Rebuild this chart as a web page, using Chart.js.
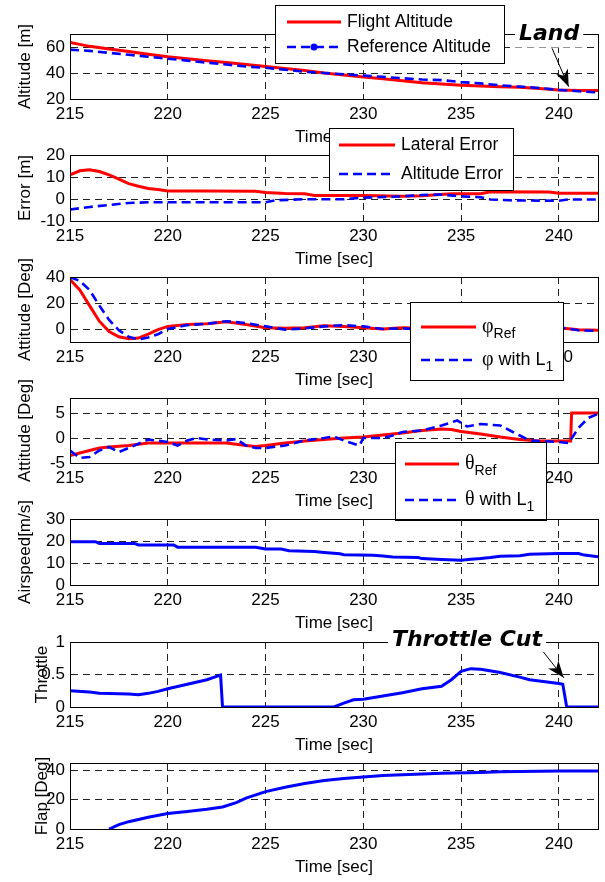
<!DOCTYPE html>
<html>
<head>
<meta charset="utf-8">
<script src="https://cdn.jsdelivr.net/npm/chart.js@4/dist/chart.umd.min.js"></script>
<style>
  body { margin: 0; background: #fff; }
  #wrap { position: relative; width: 605px; height: 882px; }
  #wrap canvas { position: absolute; left: 0; top: 0; }
</style>
</head>
<body>
<div id="wrap"></div>
<script>
// ---- data ----
const timeTicks = [215, 220, 225, 230, 235, 240]
const timeMin = 215
const timeMax = 242

const altTime = [215, 215.5, 216, 217, 218, 219, 220, 221, 222, 223, 224, 225, 226, 227, 228, 229, 230, 231, 232, 233, 234, 235, 236, 237, 238, 239, 240, 241, 242]
const flightAlt = [63.5, 62, 60.5, 58.5, 56.5, 54.5, 52.5, 51, 49.5, 48, 46.5, 45, 43.5, 42, 40, 38.5, 37, 35.5, 34, 32.5, 31.5, 30.5, 30, 29.5, 29, 28, 27, 26.5, 26.5]
const refAlt = [58, 57.5, 57, 55.5, 54, 52.5, 51, 49.5, 48, 46.5, 45, 44, 42.5, 41, 40, 39, 38, 37, 36, 35, 34.5, 33, 32, 30.5, 29.5, 28.5, 27, 26, 25]
const altTicks = [20, 40, 60]

const latTime = [215, 215.5, 216, 216.5, 217, 217.5, 218, 218.5, 219, 219.5, 220, 222, 224.5, 225, 226, 227, 227.5, 230, 232, 233, 234.5, 236, 236.5, 239.5, 240, 242]
const latErr = [11, 12.8, 13.3, 12.5, 11, 9, 7, 5.8, 4.8, 4.3, 3.6, 3.6, 3.5, 3, 2.5, 2.4, 1.6, 1.6, 1.2, 1.5, 2.4, 2.4, 3.3, 3.2, 2.6, 2.6]
const altErrTime = [215, 216, 217, 218, 219, 220, 222, 225, 225.5, 227, 229, 230, 232, 233, 234, 235, 236, 236.5, 237.5, 240, 240.5, 242]
const altErr = [-4.8, -3.6, -2.7, -1.8, -1.5, -1.5, -1.5, -1.5, -0.6, -0.1, -0.1, 0.6, 1.2, 1.8, 2, 1.2, 0.8, -0.2, -0.6, -0.8, -0.2, -0.2]
const errTicks = [-10, 0, 10, 20]

const phiTime = [215, 215.5, 216, 216.5, 217, 217.5, 218, 218.5, 219, 219.5, 220, 221, 222, 223, 224, 225, 226, 227, 228, 229, 230, 231, 232, 233, 234, 235, 236, 237, 238, 239, 240, 241, 242]
const phiRef = [38, 30, 18, 6, -2, -6, -7.5, -7, -4, -0.5, 2, 3.5, 4, 5.5, 3.5, 1, 0.5, 1, 2.5, 2, 1, 0, 1, 0.5, 0, 0.5, 0, 1, 0.5, 1, 1, -0.5, -1]
const phiL1 = [40, 37, 30, 18, 7, -1, -6, -8, -6.5, -4, 0, 3, 4, 6, 4.5, 2, -0.5, 0.5, 2, 3, 2, 0, 0.5, -0.5, 0.5, 0, 1, 0, 1.5, 0.5, 1.5, -1, -1.5]
const phiTicks = [0, 20, 40]

const thetaRefTime = [215, 216, 216.5, 217, 218, 219, 220, 223, 224, 224.5, 225, 226, 227, 228, 229, 230, 231, 232, 233, 234, 234.5, 235, 236, 237, 238, 239, 240, 240.6, 240.65, 242]
const thetaRef = [-3.5, -2.5, -2, -1.8, -1.5, -1, -1, -1, -1.5, -1.7, -1.5, -1, -0.6, -0.3, 0, 0.2, 0.6, 1, 1.5, 1.8, 1.7, 1.3, 0.8, 0.2, -0.3, -0.6, -0.6, -0.6, 5, 5]
const thetaL1Time = [215, 215.5, 216, 216.5, 217, 217.5, 218, 219, 220, 220.5, 221, 221.5, 222, 223, 223.5, 224, 224.5, 225, 226, 227, 228, 228.5, 229, 229.8, 230, 231, 231.5, 232, 233, 234, 234.8, 235.3, 236, 237, 237.5, 238, 238.5, 240, 240.5, 241, 241.5, 242]
const thetaL1 = [-2.5, -4, -3.8, -2.5, -1.8, -2.8, -2, -0.3, -0.8, -1.5, -0.5, 0, -0.3, -0.5, -0.2, -1.5, -2, -2, -1.5, -0.5, 0, 0.3, -0.5, -1.5, 0, 0, 0.5, 1.2, 1.5, 2.5, 3.5, 2.3, 2.8, 2.5, 1.5, 0.5, -0.5, -0.8, -1, 2, 4, 4.8]
const thetaTicks = [-5, 0, 5]

const airTime = [215, 216.3, 216.5, 218.3, 218.5, 220.3, 220.5, 224.5, 225, 225.8, 226.2, 227.5, 228, 228.8, 229, 230.5, 231, 231.5, 232.8, 233, 234, 235, 235.5, 236, 236.5, 237, 238, 238.5, 240, 241, 241.3, 242]
const airspeed = [19.7, 19.7, 18.9, 18.9, 18.2, 18.2, 17.2, 17.2, 16.4, 16.4, 15.6, 15.2, 14.8, 14.2, 13.8, 13.5, 13.2, 12.7, 12.5, 12, 11.6, 11.3, 11.7, 12, 12.5, 13.1, 13.3, 14, 14.3, 14.3, 13.6, 12.8]
const airTicks = [0, 10, 20, 30]

const thrTime = [215, 216, 216.5, 218, 218.5, 219, 219.5, 220, 221, 222, 222.5, 222.7, 222.8, 228.5, 229, 229.5, 230, 231, 232, 233, 234, 234.5, 235, 235.5, 236, 237, 238, 238.5, 239, 240, 240.2, 240.4, 242]
const throttle = [0.25, 0.23, 0.21, 0.2, 0.19, 0.21, 0.24, 0.28, 0.35, 0.42, 0.47, 0.49, 0, 0, 0.06, 0.11, 0.12, 0.17, 0.22, 0.28, 0.32, 0.42, 0.55, 0.59, 0.58, 0.53, 0.46, 0.42, 0.4, 0.36, 0.35, 0, 0]
const thrTicks = [0, 0.5, 1]

const flapTime = [217, 217.5, 218, 219, 220, 221, 222, 222.8, 223.5, 224, 225, 226, 227, 228, 229, 230, 231, 232, 233, 234, 236, 237, 240, 242]
const flap = [0, 3, 5, 8, 10.5, 12, 13.5, 15, 18, 21, 25.5, 28.5, 31, 33, 34.5, 35.5, 36.5, 37, 37.5, 38, 38.5, 39, 39.5, 39.5]
const flapTicks = [0, 20, 40]

// ---- drawing ----
const W = 605, H = 882, XAXIS_H = 52, YAXIS_W = 70
const FONT = "'Liberation Sans', Arial, Helvetica, sans-serif"
const NOTE_FONT = "'DejaVu Sans', Verdana, sans-serif"
const RED = '#ff0000', BLUE = '#0000ff'
const wrap = document.getElementById('wrap')

const pts = (t, v) => t.map((x, i) => ({ x, y: v[i] }))

function solid(label, color, t, v) {
  return { label, data: pts(t, v), borderColor: color, borderWidth: 3, pointRadius: 0, order: 1 }
}
function dashed(label, color, t, v) {
  return { label, data: pts(t, v), borderColor: color, borderWidth: 2.6, borderDash: [9, 5], pointRadius: 0, order: 0 }
}

// text with _{sub} subscripts, greek letters in a serif face
function drawRich(ctx, text, x, y, size) {
  const parts = text.split(/(_\{[^}]*\})/).filter(s => s)
  ctx.textBaseline = 'middle'
  ctx.textAlign = 'left'
  parts.forEach(p => {
    let sub = false, s = p
    if (p.startsWith('_{')) { sub = true; s = p.slice(2, -1) }
    const sz = sub ? Math.round(size * 0.75) : size
    const dy = sub ? size * 0.4 : 0
    for (const ch of s) {
      const greek = /[\u0370-\u03ff]/.test(ch)
      ctx.font = (greek ? (sz + 2) + "px 'Liberation Serif', serif" : sz + 'px ' + FONT)
      ctx.fillText(ch, x, y + dy)
      x += ctx.measureText(ch).width
    }
  })
}

const decor = {
  id: 'decor',
  afterDraw(chart, args, opts) {
    const { ctx, chartArea: a } = chart
    ctx.save()
    ctx.strokeStyle = '#000'
    ctx.lineWidth = 1
    ctx.setLineDash([])
    ctx.strokeRect(Math.round(a.left) + 0.5, Math.round(a.top) + 0.5, Math.round(a.right - a.left), Math.round(a.bottom - a.top))

    // notes with arrows
    ;(opts.notes || []).forEach(n => {
      const xs = chart.scales.x, ys = chart.scales.y
      const tx = xs.getPixelForValue(n.at[0]), ty = ys.getPixelForValue(n.at[1])
      ctx.font = 'italic bold ' + n.size + 'px ' + NOTE_FONT
      const w = ctx.measureText(n.text).width
      ctx.fillStyle = '#fff'
      ctx.fillRect(tx - w / 2 - 4, ty - n.size / 2 - 2, w + 8, n.size + 4)
      ctx.fillStyle = '#000'
      ctx.textAlign = 'center'
      ctx.textBaseline = 'middle'
      ctx.fillText(n.text, tx, ty)
      const x0 = xs.getPixelForValue(n.from[0]), y0 = ys.getPixelForValue(n.from[1])
      const x1 = xs.getPixelForValue(n.to[0]), y1 = ys.getPixelForValue(n.to[1])
      ctx.strokeStyle = '#000'
      ctx.lineWidth = 1
      ctx.beginPath(); ctx.moveTo(x0, y0); ctx.lineTo(x1, y1); ctx.stroke()
      const ang = Math.atan2(y1 - y0, x1 - x0), L = 17, hw = 6.5, notch = 5
      ctx.save()
      ctx.translate(x1, y1); ctx.rotate(ang)
      ctx.beginPath()
      ctx.moveTo(0, 0); ctx.lineTo(-L, -hw); ctx.lineTo(-L + notch, 0); ctx.lineTo(-L, hw)
      ctx.closePath(); ctx.fill()
      ctx.restore()
    })

    // legend box
    const lg = opts.legend
    if (lg) {
      ctx.fillStyle = '#fff'
      ctx.fillRect(lg.x, lg.y, lg.w, lg.h)
      ctx.strokeStyle = '#000'
      ctx.lineWidth = 1
      ctx.strokeRect(lg.x + 0.5, lg.y + 0.5, lg.w, lg.h)
      chart.data.datasets.forEach((ds, i) => {
        const y = lg.rows[i]
        ctx.strokeStyle = ds.borderColor
        ctx.lineWidth = ds.borderWidth
        ctx.setLineDash(ds.borderDash || [])
        ctx.beginPath(); ctx.moveTo(lg.x0, y); ctx.lineTo(lg.x1, y); ctx.stroke()
        ctx.setLineDash([])
        if (ds.legendDot) {
          ctx.fillStyle = ds.borderColor
          ctx.beginPath(); ctx.arc((lg.x0 + lg.x1) / 2, y, 3.5, 0, Math.PI * 2); ctx.fill()
        }
        ctx.fillStyle = '#000'
        drawRich(ctx, ds.label, lg.tx, y, lg.size)
      })
    }
    ctx.restore()
  }
}

function panel(p) {
  const canvas = document.createElement('canvas')
  canvas.width = W
  canvas.height = H
  wrap.appendChild(canvas)
  const tickFont = { family: FONT, size: 17 }
  const grid = { color: '#222', lineWidth: 1, drawTicks: false }
  return new Chart(canvas, {
    type: 'line',
    data: { datasets: p.datasets },
    options: {
      responsive: false,
      animation: false,
      devicePixelRatio: 1,
      layout: { padding: { top: p.top, bottom: H - p.top - p.h - XAXIS_H, left: 0, right: 7 } },
      plugins: {
        legend: { display: false },
        tooltip: { enabled: false },
        decor: { legend: p.legend, notes: p.notes }
      },
      scales: {
        x: {
          type: 'linear', min: timeMin, max: timeMax,
          afterBuildTicks: s => { s.ticks = timeTicks.map(v => ({ value: v })) },
          afterFit: s => { s.height = XAXIS_H },
          grid,
          border: { display: true, color: '#000', width: 1, dash: [7, 5] },
          ticks: { color: '#000', font: tickFont, padding: 5, maxRotation: 0, autoSkip: false, callback: v => String(v) },
          title: { display: true, text: 'Time [sec]', color: '#000', font: tickFont, padding: { top: 0, bottom: 3 } }
        },
        y: {
          type: 'linear', min: p.min, max: p.max,
          afterBuildTicks: s => { s.ticks = p.ticks.map(v => ({ value: v })) },
          afterFit: s => { s.width = YAXIS_W },
          grid,
          border: { display: true, color: '#000', width: 1, dash: [7, 5] },
          ticks: { color: '#000', font: tickFont, padding: 5, autoSkip: false, callback: v => String(v) },
          title: { display: true, text: p.ytitle, color: '#000', font: tickFont, padding: { top: p.titlePad, bottom: 0 } }
        }
      }
    },
    plugins: [decor]
  })
}

const refDs = dashed('Reference Altitude', BLUE, altTime, refAlt)
refDs.legendDot = true

panel({
  top: 34, h: 65, min: 20, max: 70, ticks: altTicks, ytitle: 'Altitude [m]', titlePad: 15,
  datasets: [solid('Flight Altitude', RED, altTime, flightAlt), refDs],
  legend: { x: 275, y: 5, w: 229, h: 58, rows: [22, 47], x0: 287, x1: 341, tx: 347, size: 17.5 },
  notes: [{ text: 'Land', size: 22, at: [239.5, 69.6], from: [239.65, 59], to: [240.5, 29.5] }]
})

panel({
  top: 155, h: 66, min: -10, max: 20, ticks: errTicks, ytitle: 'Error [m]', titlePad: 15,
  datasets: [solid('Lateral Error', RED, latTime, latErr), dashed('Altitude Error', BLUE, altErrTime, altErr)],
  legend: { x: 329, y: 128, w: 184, h: 62, rows: [145, 174], x0: 339, x1: 395, tx: 401, size: 17.5 }
})

panel({
  top: 277, h: 65, min: -10, max: 40, ticks: phiTicks, ytitle: 'Attitude [Deg]', titlePad: 15,
  datasets: [solid('φ_{Ref}', RED, phiTime, phiRef), dashed('φ with L_{1}', BLUE, phiTime, phiL1)],
  legend: { x: 410, y: 302, w: 153, h: 78, rows: [327, 360], x0: 421, x1: 476, tx: 482, size: 18 }
})

panel({
  top: 398, h: 65, min: -5, max: 8, ticks: thetaTicks, ytitle: 'Attitude [Deg]', titlePad: 15,
  datasets: [solid('θ_{Ref}', RED, thetaRefTime, thetaRef), dashed('θ with L_{1}', BLUE, thetaL1Time, thetaL1)],
  legend: { x: 395, y: 442, w: 151, h: 78, rows: [464, 500], x0: 405, x1: 459, tx: 465, size: 18 }
})

panel({
  top: 519, h: 66, min: 0, max: 30, ticks: airTicks, ytitle: 'Airspeed[m/s]', titlePad: 15,
  datasets: [solid('Airspeed', BLUE, airTime, airspeed)]
})

panel({
  top: 642, h: 65, min: 0, max: 1, ticks: thrTicks, ytitle: 'Throttle', titlePad: 32,
  datasets: [solid('Throttle', BLUE, thrTime, throttle)],
  notes: [{ text: 'Throttle Cut', size: 22, at: [235.3, 1.03], from: [239.2, 0.85], to: [240.25, 0.45] }]
})

panel({
  top: 763, h: 66, min: 0, max: 45, ticks: flapTicks, ytitle: 'Flap [Deg]', titlePad: 32,
  datasets: [solid('Flap', BLUE, flapTime, flap)]
})
</script>
</body>
</html>
